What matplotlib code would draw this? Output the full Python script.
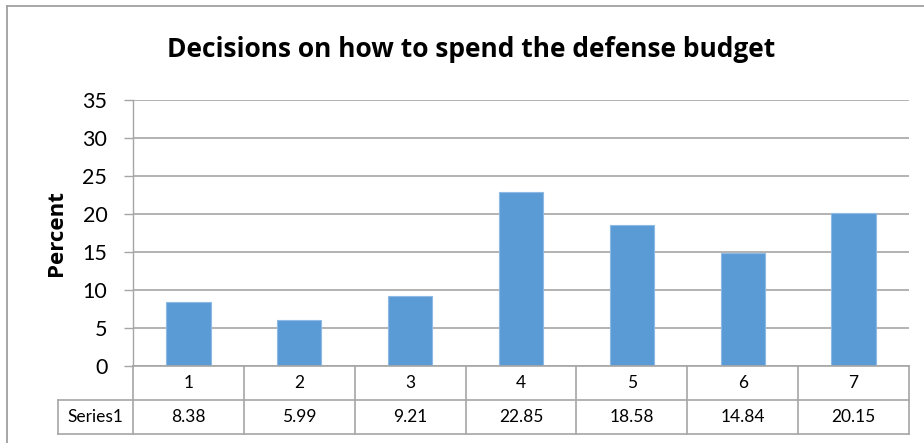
import matplotlib
matplotlib.use("Agg")
import matplotlib.pyplot as plt
from matplotlib.transforms import blended_transform_factory
from matplotlib.lines import Line2D

categories = ["1", "2", "3", "4", "5", "6", "7"]
values = [8.38, 5.99, 9.21, 22.85, 18.58, 14.84, 20.15]
series_name = "Series1"
title = "Decisions on how to spend the defense budget"
ylabel = "Percent"
yticks = [0, 5, 10, 15, 20, 25, 30, 35]

W, H = 924, 443
plt.rcParams['font.family'] = ['Lato', 'DejaVu Sans']
fig = plt.figure(figsize=(W / 100, H / 100), dpi=100)

def fx(px):
    return px / W

def fy(py):
    return 1 - py / H

ax_left, ax_right, ax_top, ax_bot = 133, 909, 100, 366
ax = fig.add_axes([fx(ax_left), fy(ax_bot), fx(ax_right - ax_left), fy(ax_top) - fy(ax_bot)])

grid_c = "#A6A6A6"
bar_c = "#5B9BD5"
n = len(categories)
xs = list(range(n))
ax.bar(xs, values, width=0.4, color=bar_c, edgecolor="#8DB9E4", linewidth=0.8, zorder=3)
ax.set_xlim(-0.5, n - 0.5)
ax.set_ylim(0, 35)
ax.set_yticks(yticks)
ax.set_yticklabels([str(t) for t in yticks], fontsize=15.5)
ax.tick_params(axis='y', length=6.5, width=1, color=grid_c, pad=12)
ax.set_xticks([])
for s in ["top", "right", "bottom"]:
    ax.spines[s].set_visible(False)
ax.spines["left"].set_color(grid_c)
ax.spines["left"].set_linewidth(1)
ax.grid(axis='y', color=grid_c, linewidth=1.2, zorder=0)
ax.set_axisbelow(True)

# Title and y label
bold_fam = ['Open Sans', 'DejaVu Sans']
fig.text(fx(471), fy(57), title, ha='center', va='baseline', fontsize=19, fontweight='bold', family=bold_fam)
fig.text(fx(57), fy(233), ylabel, ha='center', va='center', rotation=90, fontsize=16, fontweight='bold', family=bold_fam)

# Data table
tr = blended_transform_factory(ax.transData, fig.transFigure)
row1_top, row_mid, row_bot = 366, 399.5, 434
def hline(x0, x1, y):
    fig.add_artist(Line2D([fx(x0), fx(x1)], [fy(y), fy(y)], color=grid_c, linewidth=1.2))
def vline(x, y0, y1):
    fig.add_artist(Line2D([fx(x), fx(x)], [fy(y0), fy(y1)], color=grid_c, linewidth=1.2))

hline(ax_left, ax_right, row1_top)
hline(58, ax_right, row_mid)
hline(58, ax_right, row_bot)
vline(58, row_mid, row_bot)
cw = (ax_right - ax_left) / n
for i in range(n + 1):
    vline(ax_left + i * cw, row1_top, row_bot)
for i, (c, v) in enumerate(zip(categories, values)):
    fig.text(i, fy((row1_top + row_mid) / 2), c, transform=tr, ha='center', va='center', fontsize=12.5)
    fig.text(i, fy((row_mid + row_bot) / 2), f"{v:.2f}", transform=tr, ha='center', va='center', fontsize=12.5)
fig.text(fx((58 + ax_left) / 2), fy((row_mid + row_bot) / 2), series_name, ha='center', va='center', fontsize=12.5)

# Outer chart frame (top and left visible)
frame_c = "#A0A0A0"
fig.add_artist(Line2D([fx(7), fx(7)], [fy(6), 0], color=frame_c, linewidth=1.3))
fig.add_artist(Line2D([fx(7), 1], [fy(6), fy(6)], color=frame_c, linewidth=1.3))

fig.savefig("out.png", dpi=100)
